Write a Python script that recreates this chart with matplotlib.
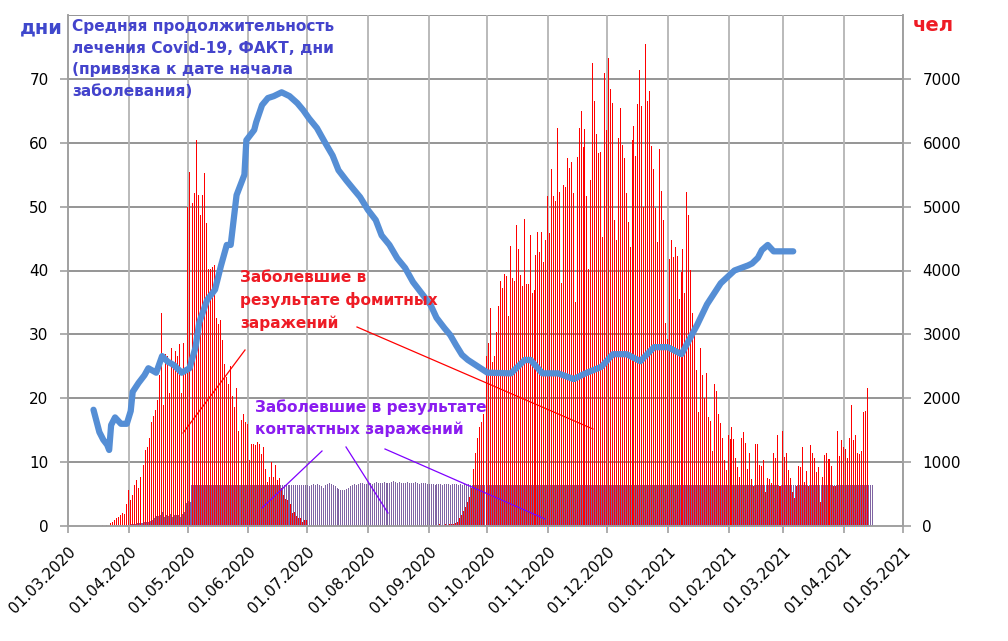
import numpy as np
import pandas as pd
import matplotlib
matplotlib.use("Agg")
import matplotlib.pyplot as plt
import matplotlib.dates as mdates

# === данные: заболевшие (фомитные заражения), чел/день ===
fomite_spring_start = "2020-03-19"
fomite_spring = [15, 0, 15, 0, 50, 70, 100, 120, 145, 170, 200, 190, 345, 560, 410, 490,
                 640, 720, 590, 770, 1030, 960, 1190, 1240, 1370, 1630, 1720, 1810, 1970,
                 2360, 3330, 1890, 2700, 2660, 2080, 2780, 2540, 2740, 2660, 2850, 2080,
                 2860, 2480, 5000, 5540, 5410, 5050, 5210, 6040, 5180, 4870, 5180, 5520,
                 4740, 4030, 4030, 4060, 4080, 3250, 3170, 3220, 2910, 2540, 2330, 2230,
                 2500, 2030, 1870, 2160, 1480, 1370, 1660, 1760, 1630, 1600, 1030, 1290,
                 1290, 1270, 1320, 1290, 1130, 1230, 900, 690, 770, 1000, 770, 960, 720,
                 750, 590, 490, 430, 400, 430, 350, 200, 220, 150, 120, 120, 70, 90, 90]

fomite_autumn_start = "2020-09-01"
fomite_autumn = [0, 0, 15, 0, 20, 0, 25, 15, 0, 30, 20, 35, 25,
                 30, 50, 70, 120, 170, 240, 300, 380, 460, 590, 900, 1140, 1370,
                 1555, 1630, 1760, 2030, 2660, 2860, 3420, 2570, 2660, 3040, 3440, 3840,
                 3730, 3940, 3910, 3280, 4380, 3890, 3840, 4710, 4330, 3930, 3750, 4800,
                 3790, 3790, 4550, 3650, 3700, 4240, 4610, 4290, 4610, 4140, 4480, 5160,
                 4590, 5590, 5160, 5090, 6230, 5230, 3800, 5340, 5310, 5760, 5610, 5700,
                 5220, 3510, 5780, 6230, 6500, 5930, 6210, 5160, 4030, 5410, 7250, 6660,
                 6130, 5840, 5860, 4530, 7090, 6200, 7330, 6840, 6620, 4790, 4480, 6070,
                 6550, 5960, 5760, 5220, 4760, 4370, 6040, 6270, 5790, 6600, 7140, 6570,
                 5000, 7540, 6650, 6810, 5950, 5590, 4980, 4450, 5900, 5240, 4790, 3180,
                 2930, 4180, 4480, 4210, 4370, 4230, 3550, 3980, 4330, 3650, 5230, 4870,
                 4010, 3340, 3000, 2440, 1790, 2790, 2360, 2000, 2400, 1710, 1640, 1170,
                 2220, 2120, 1760, 1610, 1370,
                 1030, 880, 1420, 1360, 1550, 1360, 1070, 920, 770, 1380, 1470, 1300, 900,
                 1150, 730, 620, 1280, 1290, 960, 940, 1040, 540, 750, 730, 680, 1150,
                 1070, 1420, 620, 620, 1490, 1080, 1140, 870, 750, 540, 440, 620, 940, 930,
                 1240, 690, 860, 620, 1270, 1150, 1070, 850, 930, 380, 770, 1110, 1150,
                 1050, 1050, 940, 620, 620, 1490, 1100, 1350, 1240, 1200, 1060, 1370,
                 1900, 1340, 1420, 1150, 1120, 1170, 1790, 1800, 2160]

# === заболевшие (контактные заражения), чел/день ===
contact_start = "2020-04-01"
contact_end = "2021-04-15"
contact_level = 640
contact_spring = [20, 25, 30, 35, 40, 40, 45, 50, 55, 60, 70, 80, 95, 120, 150, 160,
                  170, 225, 145, 170, 155, 190, 145, 180, 170, 180, 145, 190, 225, 355,
                  390, 380]
contact_summer_start = "2020-07-01"
contact_summer = [640, 620, 640, 650, 640, 660, 640, 620, 600, 640, 660, 680, 650, 640,
                  620, 600, 580, 560, 570, 560, 580, 600, 620, 640, 660, 640, 650, 670,
                  680, 660, 650,
                  670, 680, 660, 680, 690, 680, 670, 680, 690, 680, 670, 680, 690, 700,
                  690, 680, 690, 680, 670, 680, 690, 680, 670, 680, 690, 680, 660, 670,
                  680, 670, 660,
                  650, 660, 650, 640, 650, 660, 650, 640, 650, 660, 650, 640, 650, 660,
                  650, 640, 650, 640, 650, 640, 650, 640, 640, 640, 640, 640]

# === средняя продолжительность лечения, дни ===
days_dates = ["2020-03-14", "2020-03-17", "2020-03-19", "2020-03-21", "2020-03-22",
              "2020-03-23", "2020-03-25", "2020-03-28", "2020-03-31", "2020-04-02",
              "2020-04-03", "2020-04-06", "2020-04-09", "2020-04-11", "2020-04-15",
              "2020-04-18", "2020-04-21", "2020-04-24", "2020-04-28", "2020-05-02",
              "2020-05-05", "2020-05-07", "2020-05-11", "2020-05-15", "2020-05-18",
              "2020-05-21", "2020-05-23", "2020-05-26", "2020-05-30", "2020-05-31",
              "2020-06-04", "2020-06-05", "2020-06-08", "2020-06-11", "2020-06-14",
              "2020-06-18", "2020-06-22", "2020-06-26", "2020-06-29", "2020-07-02",
              "2020-07-06", "2020-07-10", "2020-07-14", "2020-07-17", "2020-07-21",
              "2020-07-25", "2020-07-28", "2020-08-01", "2020-08-05", "2020-08-08",
              "2020-08-12", "2020-08-16", "2020-08-20", "2020-08-24", "2020-08-29",
              "2020-09-02", "2020-09-05", "2020-09-09", "2020-09-12", "2020-09-15",
              "2020-09-18", "2020-09-21", "2020-09-25", "2020-10-01", "2020-10-13",
              "2020-10-20", "2020-10-23", "2020-10-29", "2020-11-06", "2020-11-14",
              "2020-11-20", "2020-11-28", "2020-12-04", "2020-12-11", "2020-12-18",
              "2020-12-25", "2021-01-01", "2021-01-08", "2021-01-16", "2021-01-21",
              "2021-01-28", "2021-02-04", "2021-02-11", "2021-02-13", "2021-02-16",
              "2021-02-18", "2021-02-21", "2021-02-24", "2021-03-06"]
days_values = [18.2, 14.7, 13.5, 12.7, 11.9, 15.8, 17, 16, 16, 18, 21, 22.4, 23.6, 24.7,
               24, 26.6, 25.7, 25.2, 24, 24.7, 27.9, 31.9, 35.4, 37, 40.7, 44, 44, 51.8,
               55, 60.4, 62, 63.2, 65.9, 67, 67.3, 67.9, 67.3, 66.2, 65.1, 63.8, 62.3,
               60.1, 58, 55.7, 54.1, 52.6, 51.5, 49.5, 47.9, 45.5, 44, 41.9, 40.4, 38.2,
               36.2, 34.6, 32.6, 31, 29.9, 28.3, 26.8, 26, 25.2, 24, 23.9, 26, 26, 23.9,
               23.9, 23, 23.9, 24.9, 26.9, 26.9, 25.8, 28, 28, 26.9, 31.5, 34.7, 38, 40,
               40.8, 41.1, 42, 43.2, 44, 43, 43]

month_ticks = pd.date_range("2020-03-01", "2021-05-01", freq="MS")

# === сборка рядов по дням ===
def to_num(start, values):
    d = pd.date_range(start, periods=len(values), freq="D")
    return mdates.date2num(d.to_pydatetime()), np.array(values, dtype=float)

fx1, fy1 = to_num(fomite_spring_start, fomite_spring)
fx2, fy2 = to_num(fomite_autumn_start, fomite_autumn)
fom_x = np.concatenate([fx1, fx2])
fom_y = np.concatenate([fy1, fy2])

cont = pd.Series(float(contact_level), index=pd.date_range(contact_start, contact_end, freq="D"))
cont.iloc[:len(contact_spring)] = contact_spring
i0 = cont.index.get_loc(pd.Timestamp(contact_summer_start))
cont.iloc[i0:i0 + len(contact_summer)] = contact_summer
cont_x = mdates.date2num(cont.index.to_pydatetime())

line_x = mdates.date2num(pd.to_datetime(days_dates).to_pydatetime())

# === график ===
fig = plt.figure(figsize=(10.08, 6.41), dpi=100)
ax = fig.add_axes([68 / 1008, 1 - 526 / 641, (903 - 68) / 1008, (526 - 15) / 641])
ax2 = ax.twinx()

ax2.bar(fom_x - 0.25, fom_y, width=0.5, color="#FF0000", linewidth=0, zorder=2)
ax2.bar(cont_x + 0.25, cont.values, width=0.5, color="#8064A2", linewidth=0, zorder=3)

ax.plot(line_x, days_values, color="#558ED5", linewidth=4.5,
        solid_capstyle="round", solid_joinstyle="round", zorder=5)
ax.set_zorder(ax2.get_zorder() + 1)
ax.patch.set_visible(False)

x0 = mdates.date2num(pd.Timestamp("2020-03-01").to_pydatetime())
x1 = mdates.date2num(pd.Timestamp("2021-05-01").to_pydatetime())
ax.set_xlim(x0, x1)
ax.set_ylim(0, 80)
ax2.set_ylim(0, 8000)
ax.set_yticks(range(0, 80, 10))
ax2.set_yticks(range(0, 8000, 1000))

ax.set_xticks(mdates.date2num(month_ticks.to_pydatetime()))
ax.set_xticklabels([d.strftime("%d.%m.%Y") for d in month_ticks], rotation=45,
                   ha="right", va="top", rotation_mode="anchor", fontsize=11.5)

# сетка: горизонтальные на правой оси, вертикальные на месяцах
for v in range(1000, 9000, 1000):
    ax2.axhline(v, color="#8C8C8C", linewidth=1.3, zorder=0)
for t in month_ticks[1:]:
    ax2.axvline(mdates.date2num(t.to_pydatetime()), color="#B4B4B4", linewidth=1.3, zorder=0)

for a in (ax, ax2):
    for s in a.spines.values():
        s.set_color("#A0A0A0")
        s.set_linewidth(1.2)
    a.spines["top"].set_visible(False)
    a.tick_params(colors="#A0A0A0", labelcolor="black", labelsize=11, length=6, width=1.2)
ax.tick_params(axis="x", pad=8, length=5)
ax.tick_params(axis="y", pad=8)
ax2.tick_params(axis="y", pad=8)

# подписи
fig.text(63 / 1008, 1 - 18 / 641, "дни", ha="right", va="top", fontsize=14,
         fontweight="bold", color="#3F48CC")
fig.text(913 / 1008, 1 - 16 / 641, "чел", ha="left", va="top", fontsize=14,
         fontweight="bold", color="#EE1C25")
fig.text(72 / 1008, 1 - 19 / 641,
         "Средняя продолжительность\nлечения Covid-19, ФАКТ, дни\n(привязка к дате начала\nзаболевания)",
         ha="left", va="top", fontsize=11.1, fontweight="bold", color="#4444CC", linespacing=1.55)
fig.text(240 / 1008, 1 - 270 / 641, "Заболевшие в\nрезультате фомитных\nзаражений",
         ha="left", va="top", fontsize=11.1, fontweight="bold", color="#EE1C25", linespacing=1.55)
fig.text(255 / 1008, 1 - 399 / 641, "Заболевшие в результате\nконтактных заражений",
         ha="left", va="top", fontsize=11.1, fontweight="bold", color="#8A1CF0", linespacing=1.55)

# линии-выноски (в пикселях рисунка)
def leader(p, q, color):
    fig.add_artist(plt.Line2D([p[0] / 1008, q[0] / 1008], [1 - p[1] / 641, 1 - q[1] / 641],
                              transform=fig.transFigure, color=color, linewidth=0.9))

leader((245, 350), (183, 433), "#FF0000")
leader((357, 327), (593, 429), "#FF0000")
leader((322, 451), (262, 508), "#7F00FF")
leader((346, 447), (388, 513), "#7F00FF")
leader((385, 449), (545, 519), "#7F00FF")

fig.savefig("out.png", dpi=100)
